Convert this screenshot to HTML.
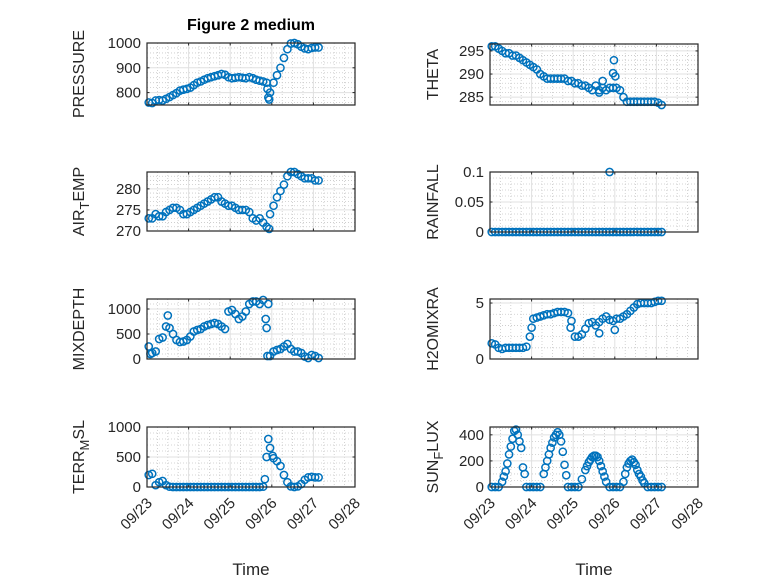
<!DOCTYPE html>
<html><head><meta charset="utf-8"><style>
body{margin:0;background:#fff}
svg{display:block;font-family:"Liberation Sans","DejaVu Sans",sans-serif}
</style></head><body>
<svg id="fig" width="778" height="583" viewBox="0 0 778 583" xmlns="http://www.w3.org/2000/svg">
<rect width="778" height="583" fill="#fff"/>
<text x="251" y="30" text-anchor="middle" font-size="16" font-weight="bold" fill="#000">Figure 2 medium</text>
<g id="panels"></g>
<text x="251" y="575" text-anchor="middle" font-size="17" fill="#262626">Time</text>
<text x="594" y="575" text-anchor="middle" font-size="17" fill="#262626">Time</text>
</svg>
<script>
const hours = [1,3,5,7,9,11,13,15,17,19,21,23,25,27,29,31,33,35,37,39,41,43,45,47,49,51,53,55,57,59,61,63,65,67,69,71,73,75,77,79,81,83,85,87,89,91,93,95,97,99];
const dayTicks = ["09/23","09/24","09/25","09/26","09/27","09/28"];

const pressureVals = [760,758,768,770,768,775,782,790,798,808,812,815,820,830,840,845,852,858,862,866,870,875,872,862,858,860,862,860,858,862,858,852,848,845,840,800,840,870,900,940,975,998,1000,995,985,978,975,980,982,982];
const pressureExtraT = [69.5,70,70.5];
const pressureExtraV = [815,780,772];

const airTempVals = [273,273,274,273.5,273.5,274.5,275,275.5,275.5,275,274,274,274.5,275,275.5,276,276.5,277,277.5,278,278,277,276.5,276,276,275.5,275,275,275,274.5,273,272.5,273,272,271,274,276,278,279.5,281,283,284,284,283.5,283,282.5,282.5,282.5,282,282];
const airTempExtraT = [70.5];
const airTempExtraV = [270.5];

const mixDepthVals = [250,120,150,400,430,650,620,500,380,340,350,380,450,550,580,600,650,680,700,720,700,650,600,950,980,900,800,850,950,1100,1150,1150,1100,1180,620,60,150,180,200,250,300,200,150,150,120,50,20,80,60,20];
const mixDepthExtraT = [12,2,68.5,69.5,70];
const mixDepthExtraV = [870,100,800,60,1100];

const terrVals = [200,220,30,80,100,30,5,0,0,0,0,0,0,0,0,0,0,0,0,0,0,0,0,0,0,0,0,0,0,0,0,0,0,5,500,650,480,430,350,200,80,10,0,10,50,120,160,170,160,160];
const terrExtraT = [68,70,72.5];
const terrExtraV = [130,800,520];

const thetaVals = [296,296,295.5,295,294.5,294.5,294,294,293.5,293,292.5,292,291.5,291,290,289.5,289,289,289,289,289,289,288.5,288.5,288,288,287.5,287.5,287,286.5,287.5,286.5,287,286.5,287,287,287,286.5,285,284,284,284,284,284,284,284,284,284,283.8,283.3];
const thetaExtraT = [71.5,71,72.3,65,63];
const thetaExtraV = [293,290.2,289.5,288.5,286];

const rainVals = [0,0,0,0,0,0,0,0,0,0,0,0,0,0,0,0,0,0,0,0,0,0,0,0,0,0,0,0,0,0,0,0,0,0,0,0,0,0,0,0,0,0,0,0,0,0,0,0,0,0];
const rainExtraT = [69];
const rainExtraV = [0.1];

const h2oVals = [1.4,1.3,1.0,0.9,1.0,1.0,1.0,1.0,1.0,1.0,1.1,2.0,3.6,3.7,3.8,3.9,4.0,4.0,4.1,4.2,4.2,4.2,4.1,3.4,2.0,2.0,2.2,2.7,3.2,3.3,3.0,3.3,3.6,3.8,3.5,3.4,3.6,3.6,3.8,4.0,4.3,4.6,4.9,5.0,5.0,5.0,5.0,5.1,5.2,5.2];
const h2oExtraT = [63,72,24,46.5];
const h2oExtraV = [2.3,2.6,2.8,2.8];

const sunVals = [0,0,0,40,120,250,370,440,350,150,0,0,0,0,0,100,200,300,380,420,350,170,0,0,0,0,60,130,190,230,240,200,120,40,0,0,0,0,40,150,200,190,130,80,30,0,0,0,0,0];
const sunExtraT = [8,10,12,14,16,18,20,32,34,36,38,40,42,44,56,58,60,62,64,66,78,80,82,84,86,88];
const sunExtraV = [80,180,310,430,400,300,100,150,250,340,400,400,270,90,160,210,240,230,160,80,100,180,210,170,100,50];

const panels = [
 {name:"pressure",label:[["PRESSURE"]],x0:147,x1:355,y0:43,y1:105,ymin:750,ymax:1000,ticks:[800,900,1000],minor:20,vals:pressureVals,et:pressureExtraT,ev:pressureExtraV,lx:84,xl:false},
 {name:"air-temp",label:[["AIR"],["T","sub"],["EMP"]],x0:147,x1:355,y0:172,y1:231,ymin:270,ymax:284,ticks:[270,275,280],minor:1,vals:airTempVals,et:airTempExtraT,ev:airTempExtraV,lx:84,xl:false},
 {name:"mixdepth",label:[["MIXDEPTH"]],x0:147,x1:355,y0:299,y1:359,ymin:0,ymax:1200,ticks:[0,500,1000],minor:100,vals:mixDepthVals,et:mixDepthExtraT,ev:mixDepthExtraV,lx:84,xl:false},
 {name:"terr-msl",label:[["TERR"],["M","sub"],["SL"]],x0:147,x1:355,y0:427,y1:487,ymin:0,ymax:1000,ticks:[0,500,1000],minor:100,vals:terrVals,et:terrExtraT,ev:terrExtraV,lx:84,xl:true},
 {name:"theta",label:[["THETA"]],x0:490,x1:698,y0:44,y1:105,ymin:283.3,ymax:296.5,ticks:[285,290,295],minor:1,vals:thetaVals,et:thetaExtraT,ev:thetaExtraV,lx:438,xl:false},
 {name:"rainfall",label:[["RAINFALL"]],x0:490,x1:698,y0:172,y1:232,ymin:0,ymax:0.1,ticks:[0,0.05,0.1],minor:0.01,vals:rainVals,et:rainExtraT,ev:rainExtraV,lx:438,xl:false},
 {name:"h2omixra",label:[["H2OMIXRA"]],x0:490,x1:698,y0:299,y1:359,ymin:0,ymax:5.36,ticks:[0,5],minor:1,vals:h2oVals,et:h2oExtraT,ev:h2oExtraV,lx:438,xl:false},
 {name:"sun-flux",label:[["SUN"],["F","sub"],["LUX"]],x0:490,x1:698,y0:427,y1:487,ymin:0,ymax:460,ticks:[0,200,400],minor:50,vals:sunVals,et:sunExtraT,ev:sunExtraV,lx:438,xl:true}
];
const NS="http://www.w3.org/2000/svg";
const root=document.getElementById('panels');
function mk(tag,attrs,parent){const e=document.createElementNS(NS,tag);for(const k in attrs)e.setAttribute(k,attrs[k]);parent.appendChild(e);return e;}

panels.forEach(p=>{
  const g=mk('g',{},root);
  
  
  const xs=t=>p.x0+(t/120)*(p.x1-p.x0);
  const ys=v=>p.y1-(v-p.ymin)/(p.ymax-p.ymin)*(p.y1-p.y0);
  for(let h=6;h<120;h+=6){ if(h%24===0) continue;
    mk('line',{x1:xs(h),x2:xs(h),y1:p.y0,y2:p.y1,stroke:'#c8c8c8','stroke-width':0.8,'stroke-dasharray':'1,2'},g);}
  const start=Math.ceil(p.ymin/p.minor-1e-9);
  for(let k=start;k*p.minor<=p.ymax+1e-9;k++){const v=k*p.minor;
    if(p.ticks.some(t=>Math.abs(t-v)<1e-9)) continue;
    mk('line',{x1:p.x0,x2:p.x1,y1:ys(v),y2:ys(v),stroke:'#c8c8c8','stroke-width':0.8,'stroke-dasharray':'1,2'},g);}
  for(let d=1;d<5;d++) mk('line',{x1:xs(d*24),x2:xs(d*24),y1:p.y0,y2:p.y1,stroke:'#e0e0e0','stroke-width':1},g);
  p.ticks.forEach(v=>{mk('line',{x1:p.x0,x2:p.x1,y1:ys(v),y2:ys(v),stroke:'#e0e0e0','stroke-width':1},g);
    const tl=mk('text',{x:p.x0-6,y:ys(v)+5,'text-anchor':'end','font-size':15,fill:'#262626'},g);
    tl.textContent=String(v);
    
    
    mk('line',{x1:p.x0,x2:p.x0+2.5,y1:ys(v),y2:ys(v),stroke:'#262626'},g);
    mk('line',{x1:p.x1,x2:p.x1-2.5,y1:ys(v),y2:ys(v),stroke:'#262626'},g);
  });
  dayTicks.forEach((lab,d)=>{const x=xs(d*24);
    mk('line',{x1:x,x2:x,y1:p.y1,y2:p.y1-2.5,stroke:'#262626'},g);
    mk('line',{x1:x,x2:x,y1:p.y0,y2:p.y0+2.5,stroke:'#262626'},g);
    if(p.xl){const tx=x+6, ty=p.y1+17;
      const t=mk('text',{x:tx,y:ty,'text-anchor':'end','font-size':15,fill:'#262626',transform:`rotate(-45 ${tx} ${ty})`},g);
      t.textContent=lab;
      
      }
  });
  const dg=mk('g',{fill:'none',stroke:'#0072BD','stroke-width':1.5},g);
  
  
  const plot=(t,v)=>{const c=mk('circle',{cx:xs(t),cy:ys(v),r:3.6},dg);
    
    };
  p.vals.forEach((v,i)=>plot(hours[i],v));
  p.et.forEach((t,i)=>plot(t,p.ev[i]));
  const box=mk('rect',{x:p.x0,y:p.y0,width:p.x1-p.x0,height:p.y1-p.y0,fill:'none',stroke:'#262626','stroke-width':1.2},g);
  
  
  const cy=(p.y0+p.y1)/2;
  const lt=mk('text',{x:p.lx,y:cy,'text-anchor':'middle','font-size':16,fill:'#262626',transform:`rotate(-90 ${p.lx} ${cy})`},g);
  
  
  p.label.forEach(s=>{const ts=mk('tspan',{},lt);ts.textContent=s[0];
    if(s[1]==='sub'){ts.setAttribute('dy','5');ts.setAttribute('font-size','13');}
    else if(lt.childNodes.length>1){ts.setAttribute('dy','-5');}});
});
</script>
</body></html>
